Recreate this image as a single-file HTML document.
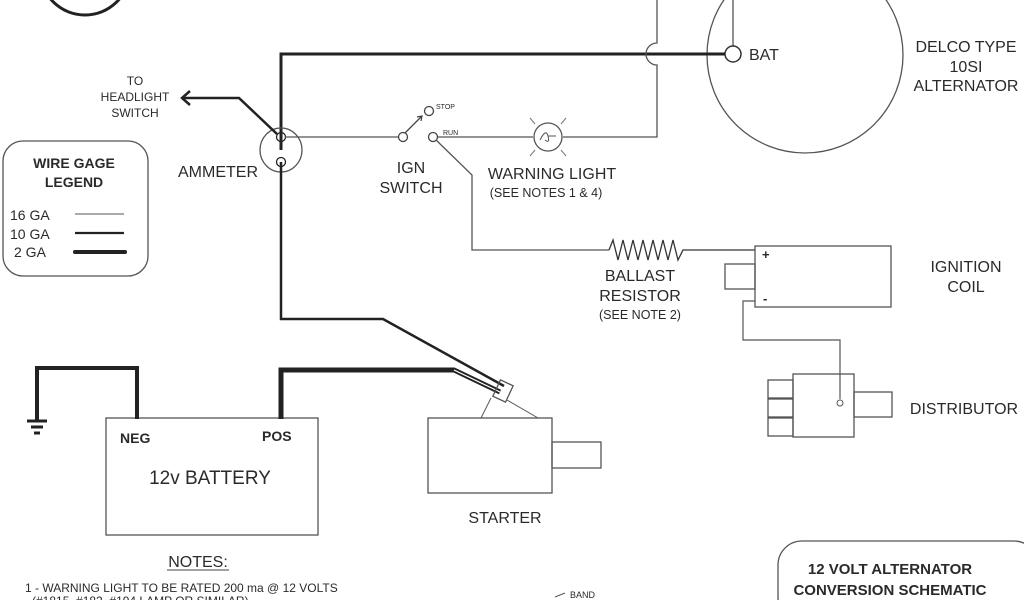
<!DOCTYPE html>
<html><head><meta charset="utf-8"><style>
html,body{margin:0;padding:0;background:#fff;}
svg{display:block;}
text{font-family:"Liberation Sans",sans-serif;fill:#2a2a2a;}
</style></head><body>
<svg width="1024" height="600" viewBox="0 0 1024 600" xmlns="http://www.w3.org/2000/svg">
<g fill="none" stroke="#222">
<circle cx="85" cy="-30" r="45" stroke-width="3"/>
<circle cx="805" cy="55" r="98" stroke="#555" stroke-width="1.3"/>
<line x1="733" y1="0" x2="733" y2="46" stroke="#555" stroke-width="1.3"/>
<circle cx="733" cy="54" r="8" stroke="#333" stroke-width="1.5"/>
<polyline points="281,150 281,54 725,54" stroke-width="3"/>
<path d="M657,0 V43 A11,11 0 0 0 657,65 V137 H563" stroke="#555" stroke-width="1.3"/>
<line x1="533" y1="137" x2="437" y2="137" stroke="#555" stroke-width="1.3"/>
<circle cx="548" cy="137" r="14" stroke="#555" stroke-width="1.3"/>
<path d="M540,140 q6,-12 8,-4 q2,8 -3,4 M548,136 h8" stroke="#555" stroke-width="1"/>
<g stroke="#777" stroke-width="1"><line x1="530" y1="118" x2="535" y2="124"/><line x1="566" y1="118" x2="561" y2="124"/><line x1="530" y1="156" x2="535" y2="150"/><line x1="566" y1="156" x2="561" y2="150"/></g>
<ellipse cx="281" cy="150" rx="21" ry="22" stroke="#555" stroke-width="1.3"/>
<circle cx="281" cy="137" r="4.5" stroke-width="1.3"/>
<circle cx="281" cy="162" r="4.5" stroke-width="1.3"/>
<line x1="285" y1="137" x2="399" y2="137" stroke="#555" stroke-width="1.3"/>
<polyline points="277,134 239,98 183,98" stroke-width="2.5"/>
<polyline points="190,91 182,98 190,105" stroke-width="2.5"/>
<circle cx="403" cy="137" r="4.5" stroke="#444" stroke-width="1.3"/>
<circle cx="433" cy="137" r="4.5" stroke="#444" stroke-width="1.3"/>
<circle cx="429" cy="111" r="4.5" stroke="#444" stroke-width="1.3"/>
<line x1="405" y1="133" x2="422" y2="116" stroke="#444" stroke-width="1.3"/>
<polyline points="417,117 422,116 421,121" stroke="#444" stroke-width="1.2"/>
<polyline points="436,140 472,175 472,250 609,250" stroke="#555" stroke-width="1.3"/>
<polyline points="609,250 613,240 618,260 623,240 628,260 633,240 638,260 643,240 648,260 653,240 658,260 663,240 668,260 673,240 678,260 683,250 755,250" stroke="#333" stroke-width="1.3"/>
<rect x="755" y="246" width="136" height="61" stroke="#555" stroke-width="1.3"/>
<rect x="725" y="264" width="30" height="25" stroke="#555" stroke-width="1.3"/>
<polyline points="755,301 743,301 743,340 840,340 840,399" stroke="#555" stroke-width="1.2"/>
<rect x="793" y="374" width="61" height="63" stroke="#555" stroke-width="1.3"/>
<rect x="768" y="380" width="25" height="18" stroke="#555" stroke-width="1.3"/>
<rect x="768" y="399" width="25" height="18" stroke="#555" stroke-width="1.3"/>
<rect x="768" y="418" width="25" height="18" stroke="#555" stroke-width="1.3"/>
<rect x="854" y="392" width="38" height="25" stroke="#555" stroke-width="1.3"/>
<circle cx="840" cy="403" r="3" stroke="#555" stroke-width="1"/>
<rect x="3" y="141" width="145" height="135" rx="20" stroke="#555" stroke-width="1.3"/>
<line x1="75" y1="214" x2="124" y2="214" stroke="#555" stroke-width="1"/>
<line x1="75" y1="233" x2="124" y2="233" stroke-width="2.2"/>
<line x1="75" y1="252" x2="125" y2="252" stroke-width="4" stroke-linecap="round"/>
<polyline points="281,162 281,319 383,319 504,386" stroke-width="2.5"/>
<rect x="106" y="418" width="212" height="117" stroke="#555" stroke-width="1.3"/>
<polyline points="137,419 137,368 37,368 37,420" stroke-width="4"/>
<polyline points="281,419 281,370 454,370 500,392" stroke-width="5"/>
<line x1="454" y1="370" x2="500" y2="392" stroke="#fff" stroke-width="1.2"/>
<g stroke-width="3"><line x1="27" y1="421" x2="47" y2="421"/><line x1="31" y1="427" x2="43" y2="427"/><line x1="34" y1="433" x2="40" y2="433"/></g>
<rect x="428" y="418" width="124" height="75" stroke="#555" stroke-width="1.3"/>
<rect x="552" y="442" width="49" height="26" stroke="#555" stroke-width="1.3"/>
<rect x="496" y="382" width="14" height="18" transform="rotate(25 503 391)" stroke="#555" stroke-width="1.3"/>
<line x1="491" y1="398" x2="481" y2="418" stroke="#555" stroke-width="1"/>
<line x1="507" y1="400" x2="538" y2="418" stroke="#555" stroke-width="1"/>
<rect x="778" y="541" width="260" height="80" rx="24" stroke="#555" stroke-width="1.3"/>
<path d="M555,597 l10,-4" stroke="#555" stroke-width="1"/>
<line x1="167" y1="570" x2="229" y2="570" stroke="#444" stroke-width="1"/>
</g>
<g font-size="16" text-anchor="middle">
<text x="135" y="85" font-size="12">TO</text>
<text x="135" y="101" font-size="12">HEADLIGHT</text>
<text x="135" y="117" font-size="12">SWITCH</text>
<text x="218" y="177">AMMETER</text>
<text x="411" y="173">IGN</text>
<text x="411" y="193">SWITCH</text>
<text x="552" y="179">WARNING LIGHT</text>
<text x="546" y="197" font-size="12.5">(SEE NOTES 1 &amp; 4)</text>
<text x="640" y="281">BALLAST</text>
<text x="640" y="301">RESISTOR</text>
<text x="640" y="319" font-size="12.5">(SEE NOTE 2)</text>
<text x="966" y="52">DELCO TYPE</text>
<text x="966" y="72">10SI</text>
<text x="966" y="91">ALTERNATOR</text>
<text x="966" y="272">IGNITION</text>
<text x="966" y="292">COIL</text>
<text x="964" y="414">DISTRIBUTOR</text>
<text x="505" y="523">STARTER</text>
<text x="210" y="484" font-size="19">12v BATTERY</text>
<text x="198" y="567" font-size="16">NOTES:</text>
<text x="74" y="168" font-weight="bold" font-size="14">WIRE GAGE</text>
<text x="74" y="187" font-weight="bold" font-size="14">LEGEND</text>
<text x="890" y="574" font-weight="bold" font-size="15">12 VOLT ALTERNATOR</text>
<text x="890" y="595" font-weight="bold" font-size="15">CONVERSION SCHEMATIC</text>
</g>
<g font-size="16">
<text x="749" y="60">BAT</text>
<text x="10" y="220" font-size="14">16 GA</text>
<text x="10" y="239" font-size="14">10 GA</text>
<text x="14" y="257" font-size="14">2 GA</text>
<text x="120" y="443" font-weight="bold" font-size="14">NEG</text>
<text x="262" y="441" font-weight="bold" font-size="14">POS</text>
<text x="762" y="259" font-weight="bold" font-size="13">+</text>
<text x="763" y="303" font-weight="bold" font-size="13">-</text>
<text x="436" y="109" font-size="7">STOP</text>
<text x="443" y="135" font-size="7">RUN</text>
<text x="25" y="592" font-size="12">1 - WARNING LIGHT TO BE RATED 200 ma @ 12 VOLTS</text>
<text x="32" y="605" font-size="12">(#1815, #182, #194 LAMP OR SIMILAR)</text>
<text x="570" y="598" font-size="9">BAND</text>
</g>
</svg>
</body></html>
